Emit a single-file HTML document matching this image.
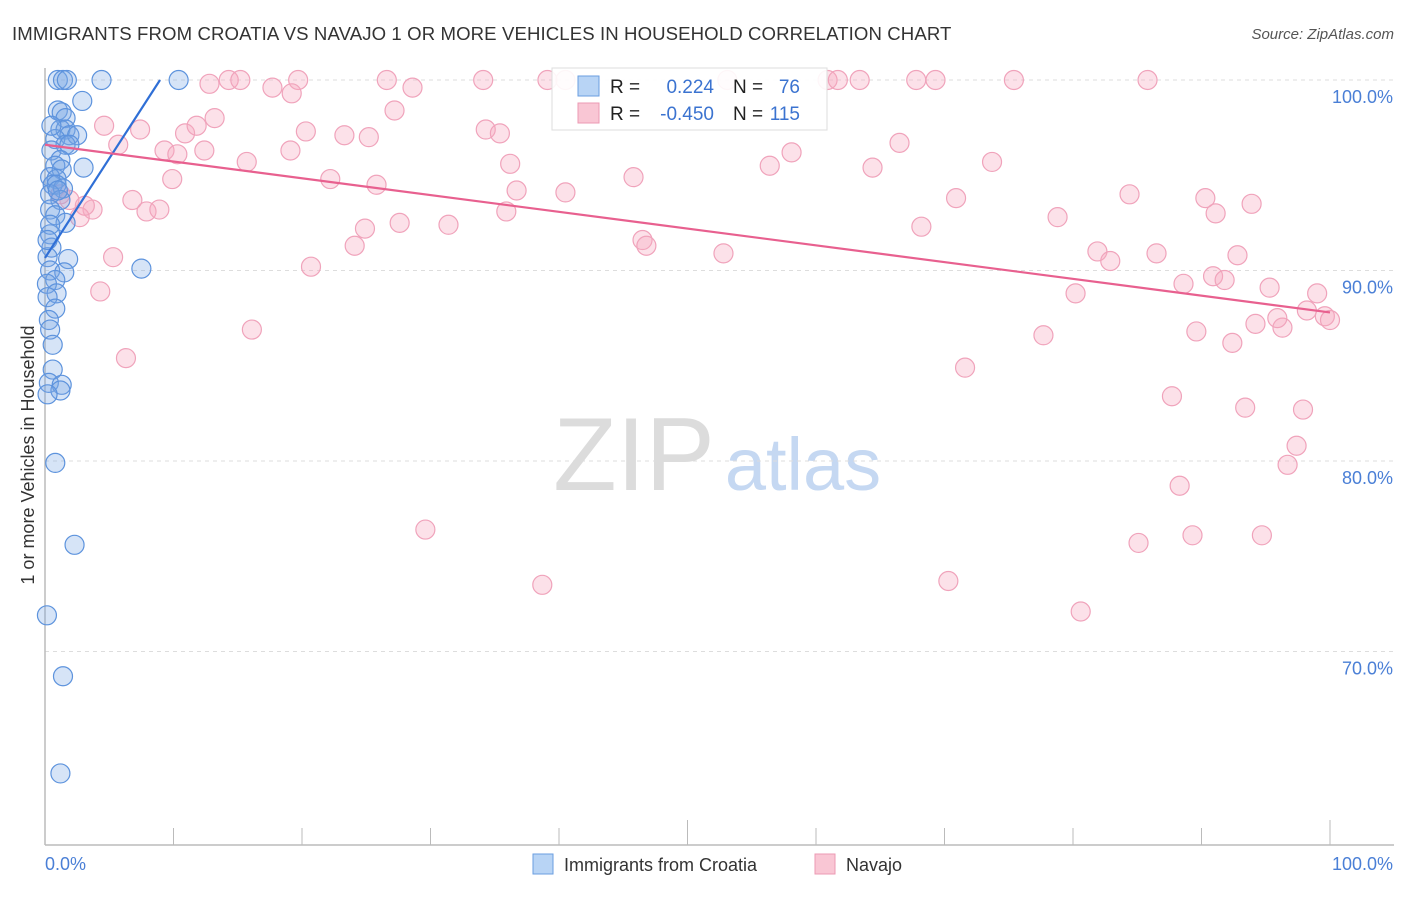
<!DOCTYPE html>
<html><head><meta charset="utf-8"><style>
body{margin:0;background:#fff;font-family:"Liberation Sans",sans-serif;}
svg text{font-family:"Liberation Sans",sans-serif;}
</style></head><body>
<svg width="1406" height="892" viewBox="0 0 1406 892">
<text x="12" y="40" font-size="18.6" fill="#333" letter-spacing="0.1">IMMIGRANTS FROM CROATIA VS NAVAJO 1 OR MORE VEHICLES IN HOUSEHOLD CORRELATION CHART</text>
<text x="1394" y="39" font-size="15" fill="#555" font-style="italic" text-anchor="end">Source: ZipAtlas.com</text>
<text transform="translate(34,455) rotate(-90)" font-size="18" fill="#333" text-anchor="middle">1 or more Vehicles in Household</text>
<g>
<text x="634" y="490" font-size="104" fill="#dcdcdc" font-family="Liberation Serif,serif" text-anchor="middle">ZIP</text>
<text x="803" y="490" font-size="74" fill="#c5d8f2" text-anchor="middle">atlas</text>
</g>
<g id="grid"></g><g id="axes"></g><g id="pink"></g><g id="blue"></g><g id="lines"></g>
<g>
<rect x="552" y="68" width="275" height="62" fill="#fff" fill-opacity="0.9" stroke="#ddd"/>
<rect x="578" y="76" width="21" height="20" fill="#b8d4f5" stroke="#6a9ee0"/>
<rect x="578" y="103" width="21" height="20" fill="#f9c6d4" stroke="#ec9ab3"/>
<text x="610" y="93" font-size="19" fill="#222">R =</text><text x="714" y="93" font-size="19" fill="#3b73d0" text-anchor="end">0.224</text>
<text x="733" y="93" font-size="19" fill="#222">N =</text><text x="800" y="93" font-size="19" fill="#3b73d0" text-anchor="end">76</text>
<text x="610" y="120" font-size="19" fill="#222">R =</text><text x="714" y="120" font-size="19" fill="#3b73d0" text-anchor="end">-0.450</text>
<text x="733" y="120" font-size="19" fill="#222">N =</text><text x="800" y="120" font-size="19" fill="#3b73d0" text-anchor="end">115</text>
</g>
<g>
<rect x="533" y="854" width="20" height="20" fill="#b8d4f5" stroke="#6a9ee0"/>
<text x="564" y="871" font-size="18" fill="#333">Immigrants from Croatia</text>
<rect x="815" y="854" width="20" height="20" fill="#f9c6d4" stroke="#ec9ab3"/>
<text x="846" y="871" font-size="18" fill="#333">Navajo</text>
</g>
</svg>
<script>
const yTicks=[100,90,80,70];
const yTickLabels=["100.0%","90.0%","80.0%","70.0%"];
const xTickValues=[0,10,20,30,40,50,60,70,80,90,100];
const blueX=[1.0,1.4,1.7,4.4,10.4,2.9,1.0,1.3,1.6,1.2,1.6,1.9,2.5,0.8,1.6,1.9,0.5,1.2,0.8,1.3,3.0,0.4,0.9,0.6,0.9,1.4,0.4,1.2,0.4,0.8,1.6,0.4,0.5,0.2,1.8,7.5,0.4,1.5,0.8,0.15,0.9,0.2,0.8,0.3,0.4,0.6,0.6,0.3,1.3,1.2,0.2,0.8,2.3,0.15,1.4,1.2,0.5,1.0,0.4,0.2];
const blueY=[100,100,100,100,100,98.9,98.4,98.3,98.0,97.4,97.4,97.1,97.1,96.9,96.6,96.6,96.3,95.8,95.5,95.3,95.4,94.9,94.8,94.5,94.5,94.3,94.0,93.7,93.2,92.9,92.5,91.9,91.2,90.7,90.6,90.1,90.0,89.9,89.5,89.3,88.8,88.6,88.0,87.4,86.9,86.1,84.8,84.1,84.0,83.7,83.5,79.9,75.6,71.9,68.7,63.6,97.6,94.2,92.4,91.6];
const pinkX=[12.8,14.3,15.2,17.7,19.7,19.2,26.6,28.6,34.1,39.1,40.5,53.1,60.9,61.7,63.4,67.8,69.3,75.4,85.8,27.2,4.6,7.4,5.7,10.9,11.8,13.2,9.3,10.3,12.4,15.7,19.1,20.3,22.2,23.3,25.2,25.8,34.3,35.4,36.2,36.7,40.5,45.8,56.4,58.1,64.4,66.5,73.7,9.9,6.8,7.9,8.9,3.7,2.7,3.1,1.9,1.2,27.6,24.9,31.4,35.9,46.5,46.8,24.1,20.7,52.8,68.2,70.9,78.8,84.4,90.3,91.1,93.9,81.9,82.9,86.5,90.9,91.8,92.8,95.3,99.0,80.2,88.6,98.2,99.6,100,96.3,95.9,94.2,92.4,89.6,77.7,5.3,4.3,16.1,6.3,71.6,87.7,93.4,97.9,97.4,96.7,88.3,29.6,85.1,89.3,94.7,38.7,70.3,80.6];
const pinkY=[99.8,100,100,99.6,100,99.3,100,99.6,100,100,100,100,100,100,100,100,100,100,100,98.4,97.6,97.4,96.6,97.2,97.6,98.0,96.3,96.1,96.3,95.7,96.3,97.3,94.8,97.1,97.0,94.5,97.4,97.2,95.6,94.2,94.1,94.9,95.5,96.2,95.4,96.7,95.7,94.8,93.7,93.1,93.2,93.2,92.8,93.4,93.7,94.0,92.5,92.2,92.4,93.1,91.6,91.3,91.3,90.2,90.9,92.3,93.8,92.8,94.0,93.8,93.0,93.5,91.0,90.5,90.9,89.7,89.5,90.8,89.1,88.8,88.8,89.3,87.9,87.6,87.4,87.0,87.5,87.2,86.2,86.8,86.6,90.7,88.9,86.9,85.4,84.9,83.4,82.8,82.7,80.8,79.8,78.7,76.4,75.7,76.1,76.1,73.5,73.7,72.1];
const blueTrend=[[0,90.66],[8.95,100]];
const pinkTrend=[[0,96.6],[100,87.8]];
const NS="http://www.w3.org/2000/svg";
const X0=45,X1=1330,YTOP=80,PXPER=19.05,YB=845;
function sx(v){return X0+(X1-X0)*v/100;}
function sy(v){return YTOP+(100-v)*PXPER;}
function mk(t,a,p){const e=document.createElementNS(NS,t);for(const k in a)e.setAttribute(k,a[k]);p.appendChild(e);return e;}
const grid=document.getElementById('grid'),axes=document.getElementById('axes');
yTicks.forEach((v,i)=>{
 const l=mk('line',{x1:X0,x2:1394,y1:sy(v),y2:sy(v),stroke:'#ddd','stroke-dasharray':'4,4'},grid);
 
 
 const t=mk('text',{x:1393,y:sy(v)+23,'font-size':18,fill:'#4a7fd6','text-anchor':'end'},axes);
 t.textContent=yTickLabels[i];
 
 
});
const ax=mk('line',{x1:X0,x2:1394,y1:YB,y2:YB,stroke:'#bbb','stroke-width':1.5},axes);


const ay=mk('line',{x1:X0,x2:X0,y1:68,y2:YB,stroke:'#bbb','stroke-width':1.5},axes);


xTickValues.forEach(v=>{
 const tall=(v===50||v===100);
 const l=mk('line',{x1:sx(v),x2:sx(v),y1:tall?820:828,y2:YB,stroke:'#bbb'},axes);
 
 
});
const xl0=mk('text',{x:45,y:870,'font-size':18,fill:'#4a7fd6'},axes);xl0.textContent='0.0%';


const xl1=mk('text',{x:1393,y:870,'font-size':18,fill:'#4a7fd6','text-anchor':'end'},axes);xl1.textContent='100.0%';


const pg=document.getElementById('pink');
pinkX.forEach((x,i)=>{const c=mk('circle',{cx:sx(x),cy:sy(pinkY[i]),r:9.5,fill:'rgba(246,170,192,0.35)',stroke:'#f0a3bb','stroke-width':1.2},pg);
 
 });
const bg=document.getElementById('blue');
blueX.forEach((x,i)=>{const c=mk('circle',{cx:sx(x),cy:sy(blueY[i]),r:9.5,fill:'rgba(120,165,230,0.3)',stroke:'#5d93dd','stroke-width':1.2},bg);
 
 });
const lg=document.getElementById('lines');
const bl=mk('line',{x1:sx(blueTrend[0][0]),y1:sy(blueTrend[0][1]),x2:sx(blueTrend[1][0]),y2:sy(blueTrend[1][1]),stroke:'#2f6fd6','stroke-width':2.2},lg);


const pl=mk('line',{x1:sx(pinkTrend[0][0]),y1:sy(pinkTrend[0][1]),x2:sx(pinkTrend[1][0]),y2:sy(pinkTrend[1][1]),stroke:'#e8608f','stroke-width':2.2},lg);


</script>
</body></html>
